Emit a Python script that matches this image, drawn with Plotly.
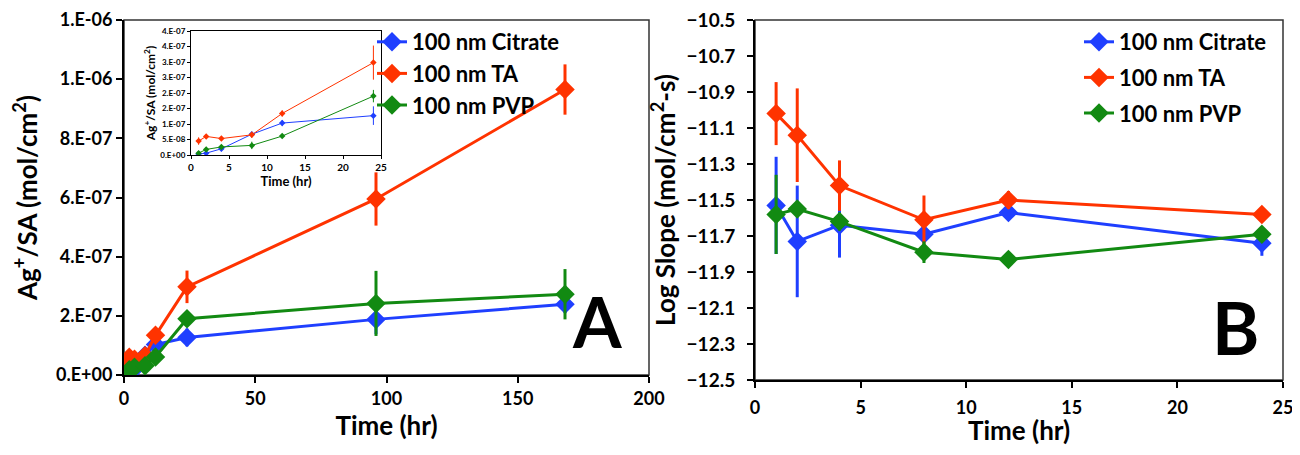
import plotly.graph_objects as go

# ---------------- data ----------------
time_a = [1, 2, 4, 8, 12, 24, 96, 168]
citrate_a = [3e-9, 6e-9, 2.0e-8, 6.7e-8, 1.03e-7, 1.27e-7, 1.88e-7, 2.39e-7]
citrate_a_err = [3e-9, 3e-9, 8e-9, 5e-9, 1.0e-8, 3.0e-8, 5.0e-8, 3.0e-8]
ta_a = [4.5e-8, 6.0e-8, 5.3e-8, 6.5e-8, 1.34e-7, 2.98e-7, 5.95e-7, 9.65e-7]
ta_a_err = [1.2e-8, 5e-9, 5e-9, 1.0e-8, 1.0e-8, 5.5e-8, 9.0e-8, 8.5e-8]
pvp_a = [6e-9, 1.8e-8, 2.6e-8, 3.1e-8, 6.1e-8, 1.9e-7, 2.42e-7, 2.73e-7]
pvp_a_err = [4e-9, 8e-9, 5e-9, 1.2e-8, 5e-9, 2.0e-8, 1.1e-7, 8.5e-8]

inset_n = 6  # inset shows the first six time points (0-24 hr)

time_b = [1, 2, 4, 8, 12, 24]
citrate_b = [-11.53, -11.73, -11.64, -11.69, -11.57, -11.74]
citrate_b_err = [0.27, 0.31, 0.18, 0.03, 0.04, 0.07]
ta_b = [-11.02, -11.14, -11.42, -11.61, -11.50, -11.58]
ta_b_err = [0.175, 0.26, 0.14, 0.135, 0.05, 0.02]
pvp_b = [-11.58, -11.55, -11.62, -11.79, -11.83, -11.69]
pvp_b_err = [0.22, 0.03, 0.05, 0.06, 0.02, 0.02]

names = ["100 nm Citrate", "100 nm TA", "100 nm PVP"]
colors = ["#1f3fff", "#ff3300", "#128a12"]

ya_ticks = [0, 2e-7, 4e-7, 6e-7, 8e-7, 1.0e-6, 1.2e-6]
ya_text = ["0.E+00", "2.E-07", "4.E-07", "6.E-07", "8.E-07", "1.E-06", "1.E-06"]
yi_ticks = [0, 5e-8, 1e-7, 1.5e-7, 2e-7, 2.5e-7, 3e-7, 3.5e-7, 4e-7]
yi_text = ["0.E+00", "5.E-08", "1.E-07", "2.E-07", "2.E-07", "3.E-07", "3.E-07", "4.E-07", "4.E-07"]
xa_ticks = [0, 50, 100, 150, 200]
xb_ticks = [0, 5, 10, 15, 20, 25]
xi_ticks = [0, 5, 10, 15, 20, 25]
yb_ticks = [-12.5, -12.3, -12.1, -11.9, -11.7, -11.5, -11.3, -11.1, -10.9, -10.7, -10.5]

FONT = "Lato"
OFF = 8  # default page body margin
W, H = 1300 - 2 * OFF, 455 - 2 * OFF


def px_x(p):
    return (p - OFF) / W


def px_y(p):
    return 1 - (p - OFF) / H


fig = go.Figure()

series_a = [(citrate_a, citrate_a_err), (ta_a, ta_a_err), (pvp_a, pvp_a_err)]
series_b = [(citrate_b, citrate_b_err), (ta_b, ta_b_err), (pvp_b, pvp_b_err)]

# Panel A main
for i, ((vals, err), name, col) in enumerate(zip(series_a, names, colors)):
    fig.add_trace(go.Scatter(
        x=time_a, y=vals, name=name, mode="lines+markers",
        line=dict(color=col, width=3),
        marker=dict(symbol="diamond", size=15, color=col),
        error_y=dict(type="data", array=err, color=col, thickness=3, width=0),
        xaxis="x", yaxis="y", legend="legend", legendgroup=f"a{i}",
    ))

# Inset
for (vals, err), name, col in zip(series_a, names, colors):
    fig.add_trace(go.Scatter(
        x=time_a[:inset_n], y=vals[:inset_n], name=name, mode="lines+markers",
        line=dict(color=col, width=1),
        marker=dict(symbol="diamond", size=5, color=col),
        error_y=dict(type="data", array=err[:inset_n], color=col, thickness=1, width=0),
        xaxis="x3", yaxis="y3", showlegend=False,
    ))

# Panel B
for i, ((vals, err), name, col) in enumerate(zip(series_b, names, colors)):
    fig.add_trace(go.Scatter(
        x=time_b, y=vals, name=name, mode="lines+markers",
        line=dict(color=col, width=3),
        marker=dict(symbol="diamond", size=15, color=col),
        error_y=dict(type="data", array=err, color=col, thickness=3, width=0),
        xaxis="x2", yaxis="y2", legend="legend2", legendgroup=f"b{i}",
    ))

tick_font = dict(family=FONT, size=18, color="black", weight="bold")
title_font = dict(family=FONT, size=26, color="black", weight="bold")
ax_common = dict(showgrid=False, zeroline=False, showline=True, linecolor="black",
                 linewidth=2, ticks="outside", ticklen=6, tickwidth=2, tickcolor="black",
                 automargin=False, ticklabeloverflow="allow")

A_left, A_right, A_top, A_bot = 124, 649, 20, 375
B_left, B_right, B_top, B_bot = 755, 1283, 20, 380
I_left, I_right, I_top, I_bot = 191, 381, 31, 155

fig.update_layout(
    width=W, height=H,
    margin=dict(l=0, r=0, t=0, b=0),
    paper_bgcolor="white", plot_bgcolor="rgba(0,0,0,0)",
    font=dict(family=FONT, color="black"),
    xaxis=dict(domain=[px_x(A_left), px_x(A_right)], range=[0, 200], tickvals=xa_ticks,
               anchor="y", tickfont=tick_font,
               title=dict(text="Time (hr)", font=title_font, standoff=4),
               **ax_common),
    yaxis=dict(domain=[px_y(A_bot), px_y(A_top)], range=[0, 1.2e-6], tickvals=ya_ticks,
               ticktext=ya_text, anchor="x", tickfont=tick_font,
               title=dict(text="Ag<sup>+</sup>/SA (mol/cm<sup>2</sup>)", font=title_font, standoff=15),
               **ax_common),
    xaxis2=dict(domain=[px_x(B_left), px_x(B_right)], range=[0, 25], tickvals=xb_ticks,
                anchor="y2", ticklabelstandoff=4, tickfont=tick_font,
                **ax_common),
    yaxis2=dict(domain=[px_y(B_bot), px_y(B_top)], range=[-12.5, -10.5], tickvals=yb_ticks,
                anchor="x2", ticklabelstandoff=8,
                tickfont=dict(family=FONT, size=19, color="black", weight="bold"),
                title=dict(text="Log Slope (mol/cm<sup>2</sup>-s)", font=title_font, standoff=4),
                **ax_common),
    xaxis3=dict(domain=[px_x(I_left), px_x(I_right)], range=[0, 25], tickvals=xi_ticks,
                anchor="y3", showgrid=False, zeroline=False, showline=True, linecolor="black",
                linewidth=1, mirror=True, ticks="outside", ticklen=3, tickcolor="black",
                automargin=False, ticklabeloverflow="allow",
                tickfont=dict(family=FONT, size=10, color="black", weight="bold"),
                title=dict(text="Time (hr)", font=dict(family=FONT, size=13, color="black", weight="bold"),
                           standoff=2)),
    yaxis3=dict(domain=[px_y(I_bot), px_y(I_top)], range=[0, 4e-7], tickvals=yi_ticks,
                ticktext=yi_text, anchor="x3", showgrid=False, zeroline=False, showline=True,
                linecolor="black", linewidth=1, mirror=True, ticks="outside", ticklen=3,
                tickcolor="black", automargin=False, ticklabeloverflow="allow",
                tickfont=dict(family=FONT, size=8, color="black", weight="bold"),
                title=dict(text="Ag<sup>+</sup>/SA (mol/cm<sup>2</sup>)",
                           font=dict(family=FONT, size=12, color="black", weight="bold"),
                           standoff=2)),
    legend=dict(x=px_x(372), y=px_y(21), xanchor="left", yanchor="top",
                bgcolor="rgba(0,0,0,0)", borderwidth=0, tracegroupgap=0,
                font=dict(family=FONT, size=22, color="black", weight="bold"),
                itemwidth=30),
    legend2=dict(x=px_x(1079), y=px_y(21), xanchor="left", yanchor="top",
                 bgcolor="rgba(0,0,0,0)", borderwidth=0, tracegroupgap=4,
                 font=dict(family=FONT, size=22, color="black", weight="bold"),
                 itemwidth=30),
    showlegend=True,
)

# frames (thin top/right borders)
for (l, r, t, b) in [(A_left, A_right, A_top, A_bot), (B_left, B_right, B_top, B_bot)]:
    fig.add_shape(type="rect", xref="paper", yref="paper",
                  x0=px_x(l), x1=px_x(r), y0=px_y(b), y1=px_y(t),
                  line=dict(color="#333333", width=1.5), layer="below")

# panel B x-axis title (annotation anchored to the figure bottom)
fig.add_annotation(text="Time (hr)", xref="paper", yref="paper",
                   x=px_x((B_left + B_right) / 2), y=0,
                   xanchor="center", yanchor="bottom", borderpad=0, showarrow=False,
                   font=title_font)

# panel letters
fig.add_annotation(text="A", xref="paper", yref="paper", x=px_x(597), y=px_y(321),
                   xanchor="center", yanchor="middle", showarrow=False,
                   font=dict(family=FONT, size=70, color="black", weight="bold"))
fig.add_annotation(text="B", xref="paper", yref="paper", x=px_x(1235), y=px_y(327),
                   xanchor="center", yanchor="middle", showarrow=False,
                   font=dict(family=FONT, size=72, color="black", weight="bold"))

fig.write_html("out.html")
